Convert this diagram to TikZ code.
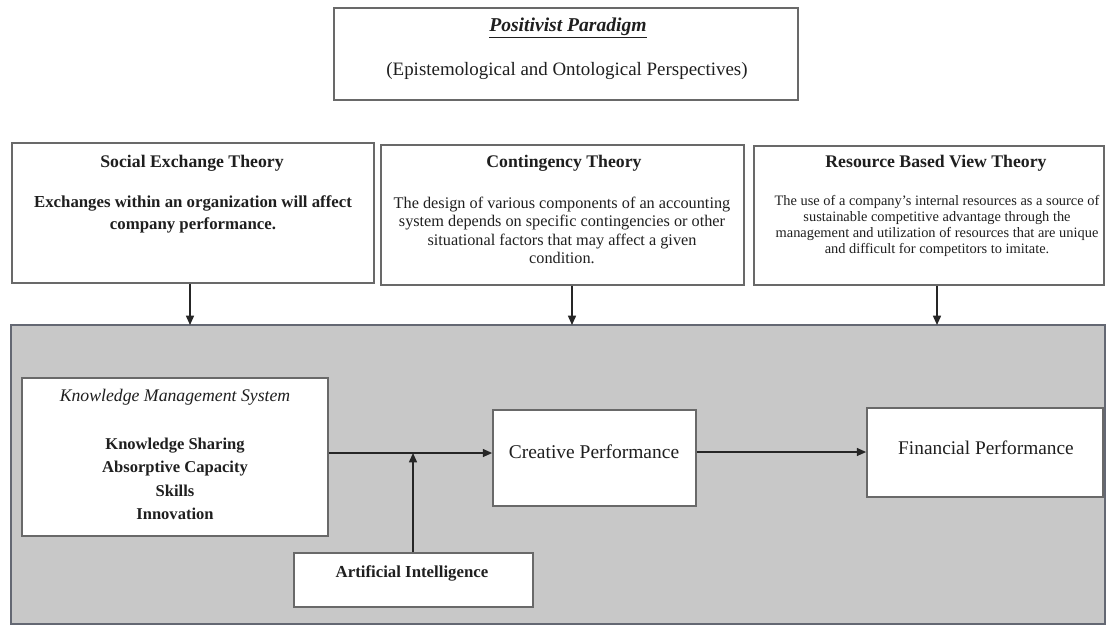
\documentclass[tikz,border=0pt]{standalone}
\usepackage{fontspec}
\setmainfont{Liberation Serif}
\usetikzlibrary{arrows.meta}
\newcommand\myfs[2]{\fontsize{#1}{#2}\selectfont}
\definecolor{panelgray}{RGB}{200,200,200}
\definecolor{edge}{RGB}{105,105,105}
\definecolor{paneledge}{RGB}{100,104,115}
\begin{document}
\begin{tikzpicture}[x=0.75pt,y=-0.75pt,
  box/.style={draw=edge, line width=1.3pt, fill=white, inner sep=0pt},
  arr/.style={draw=black!85, line width=1.1pt, -{Triangle[length=7pt,width=6pt]}},
  txt/.style={inner sep=0pt, align=center, text=black!88}]
\useasboundingbox (0,0) rectangle (1107,626);
\fill[white] (0,0) rectangle (1107,626);

% top box
\node[box, minimum width=348pt, minimum height=69pt] (top) at (566,54) {};
\node[txt, font=\myfs{14.7}{17}\bfseries\itshape] (toptitle) at (568,28) {\underline{Positivist Paradigm}};
\node[txt, font=\myfs{14.2}{17}] (topsub) at (567,71) {(Epistemological and Ontological Perspectives)};

% theory boxes
\node[box, minimum width=271.5pt, minimum height=105pt] (b1) at (193,213) {};
\node[box, minimum width=272.25pt, minimum height=105pt] (b2) at (562.5,215) {};
\node[box, minimum width=262.5pt, minimum height=104.25pt] (b3) at (929,215.5) {};

\node[txt, font=\myfs{13.3}{16}\bfseries] (b1t) at (192,163) {Social Exchange Theory};
\node[txt, font=\myfs{12.6}{16.5}\bfseries] (b1b) at (193,214) {Exchanges within an organization will affect\\company performance.};

\node[txt, font=\myfs{13.3}{16}\bfseries] (b2t) at (564,163) {Contingency Theory};
\node[txt, font=\myfs{12.2}{13.75}] (b2b) at (562,230.5) {The design of various components of an accounting\\system depends on specific contingencies or other\\situational factors that may affect a given\\condition.};

\node[txt, font=\myfs{13.3}{16}\bfseries] (b3t) at (936,163) {Resource Based View Theory};
\node[txt, font=\myfs{10.8}{12}] (b3b) at (937,226) {The use of a company's internal resources as a source of\\sustainable competitive advantage through the\\management and utilization of resources that are unique\\and difficult for competitors to imitate.};

% panel
\node[draw=paneledge, fill=panelgray, line width=1.3pt, inner sep=0pt, minimum width=820.5pt, minimum height=224.25pt] (panel) at (558,474.5) {};

\coordinate (t1) at (190,325);
\coordinate (t2) at (572,325);
\coordinate (t3) at (937,325);
\draw[arr] (b1.south -| t1) -- (t1);
\draw[arr] (b2.south -| t2) -- (t2);
\draw[arr] (b3.south -| t3) -- (t3);

% inner boxes
\node[box, minimum width=229.5pt, minimum height=118.5pt] (kms) at (175,457) {};
\node[txt, font=\myfs{13.3}{16}\itshape] (kmst) at (175,397) {Knowledge Management System};
\node[txt, font=\myfs{12.4}{17.5}\bfseries] (kmsb) at (175,479) {Knowledge Sharing\\Absorptive Capacity\\Skills\\Innovation};

\node[box, minimum width=152.25pt, minimum height=72pt] (cp) at (594.5,458) {};
\node[txt, font=\myfs{14.6}{17}] (cpt) at (594,452) {Creative Performance};

\node[box, minimum width=177pt, minimum height=66.75pt] (fp) at (985,452.5) {};
\node[txt, font=\myfs{14.5}{17}] (fpt) at (986,448) {Financial Performance};

\node[box, minimum width=179.25pt, minimum height=40.5pt] (ai) at (413.5,580) {};
\node[txt, font=\myfs{12.6}{15}\bfseries] (ait) at (412,573) {Artificial Intelligence};

% connectors
\coordinate (j) at (413,453);
\coordinate (k) at (780,452);
\draw[arr] (kms.east |- j) -- (cp.west |- j);
\draw[arr] (ai.north -| j) -- (j);
\draw[arr] (cp.east |- k) -- (fp.west |- k);
\end{tikzpicture}
\end{document}
